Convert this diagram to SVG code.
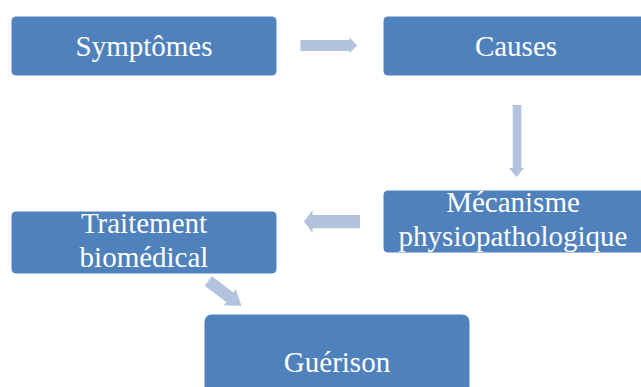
<svg xmlns="http://www.w3.org/2000/svg" width="641" height="387" viewBox="0 0 641 387">
<style>
.box{fill:#4F81BD;stroke:#ffffff;stroke-width:1}
.lbl{font-family:"Liberation Serif","Times New Roman",serif;font-size:29px;fill:#ffffff;text-anchor:middle}
.arr{fill:#B3C3DE}
</style>
<rect width="641" height="387" fill="#ffffff"/>
<g id="connectors">
<polygon class="arr" points="300.5,40 349.5,40 349.5,37.3 357,45.5 349.5,53.3 349.5,51 300.5,51"/>
<polygon class="arr" points="512.7,105 521.3,105 521.3,168 524,168 516.5,177 509,168 512.7,168"/>
<polygon class="arr" points="360,215 312.5,215 312.5,210 304,221.5 312.5,233 312.5,228.3 360,228.3"/>
<polygon class="arr" transform="translate(208.3,281) rotate(37)" points="0,-6 27,-6 27,-10 41.5,0 27,10 27,6 0,6"/>
</g>
<g id="symptomes">
<rect class="box" x="11" y="16" width="266" height="60" rx="5"/>
<text class="lbl" x="144" y="55.5">Symptômes</text>
</g>
<g id="causes">
<rect class="box" x="383" y="16" width="266" height="60" rx="5"/>
<text class="lbl" x="516" y="55.5">Causes</text>
</g>
<g id="mecanisme">
<rect class="box" x="383" y="190" width="266" height="63" rx="5"/>
<text class="lbl" x="513" y="212">Mécanisme</text>
<text class="lbl" x="513" y="245.5">physiopathologique</text>
</g>
<g id="traitement">
<rect class="box" x="11" y="211" width="266" height="63" rx="5"/>
<text class="lbl" x="144" y="233">Traitement</text>
<text class="lbl" x="144" y="267">biomédical</text>
</g>
<g id="guerison">
<rect class="box" x="204" y="314" width="266" height="90" rx="8"/>
<text class="lbl" x="337" y="372">Guérison</text>
</g>
</svg>
